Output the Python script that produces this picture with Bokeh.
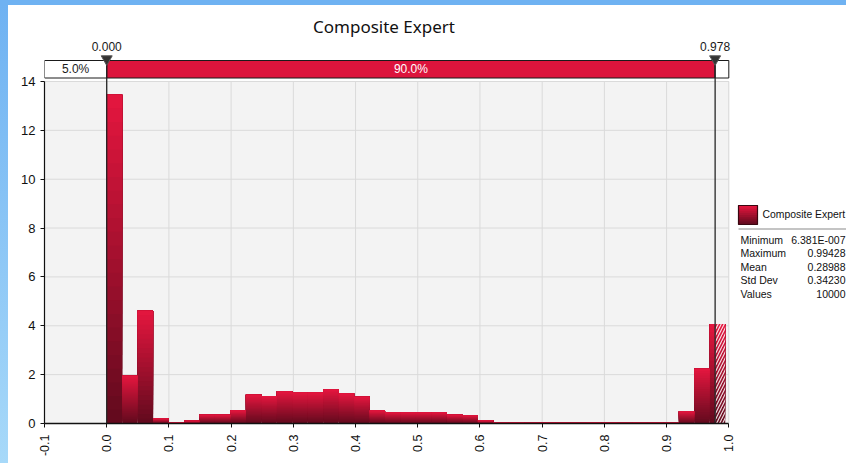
import math
import numpy as np
from bokeh.plotting import figure
from bokeh.models import FixedTicker, NumeralTickFormatter, ColumnDataSource, Div
from bokeh.layouts import column, row
from bokeh.core.properties import value
from bokeh.embed import file_html
from bokeh.resources import INLINE

# ---------------- data ----------------
title_text = "Composite Expert"
series_name = "Composite Expert"
n_bins = 40
data_min = 6.381e-7
data_max = 0.99428
density = [13.46, 1.95, 4.62, 0.20, 0.04, 0.11, 0.36, 0.36, 0.53, 1.18,
           1.13, 1.31, 1.27, 1.27, 1.39, 1.23, 1.10, 0.53, 0.45, 0.45,
           0.45, 0.45, 0.36, 0.33, 0.12, 0.04, 0.04, 0.03, 0.04, 0.04,
           0.03, 0.04, 0.04, 0.03, 0.04, 0.04, 0.03, 0.49, 2.24, 4.07]
left_marker = 0.000
right_marker = 0.978
marker_labels = ["0.000", "0.978"]
pct_left = "5.0%"
pct_mid = "90.0%"
stats_labels = ["Minimum", "Maximum", "Mean", "Std Dev", "Values"]
stats_values = ["6.381E-007", "0.99428", "0.28988", "0.34230", "10000"]
x_ticks = [-0.1, 0.0, 0.1, 0.2, 0.3, 0.4, 0.5, 0.6, 0.7, 0.8, 0.9, 1.0]
y_ticks = [0, 2, 4, 6, 8, 10, 12, 14]
x_lo, x_hi = -0.1, 1.0
y_hi = 14

# ---------------- layout ----------------
PAGE_W, PAGE_H = 846, 463
STRIP_L, STRIP_T = 8, 5           # blue window-frame strips
W, H = PAGE_W - STRIP_L, PAGE_H - STRIP_T
BORDER_L, BORDER_B = 36, 40
FRAME_W, FRAME_H = W - BORDER_L, H - BORDER_B
PX_X = 622.1          # px per x unit
PX_Y = 24.43          # px per y unit
PAGE_X0 = STRIP_L + BORDER_L      # page x of frame left
PAGE_Y0 = STRIP_T + FRAME_H       # page y of y=0
x_end = x_lo + FRAME_W / PX_X
y_end = FRAME_H / PX_Y

def fx(px):
    return x_lo + (px - PAGE_X0) / PX_X

def fy(py):
    return (PAGE_Y0 - py) / PX_Y

FONT = value("Liberation Sans")

p = figure(width=W, height=H, output_backend="svg", toolbar_location=None,
           x_range=(x_lo, x_end), y_range=(0, y_end),
           min_border_left=BORDER_L, min_border_right=0, min_border_top=0,
           min_border_bottom=BORDER_B, margin=0)
p.outline_line_color = None
p.background_fill_color = "white"
p.border_fill_color = "white"
p.xgrid.visible = False
p.ygrid.visible = False

# plot area background
p.quad(left=[x_lo], right=[x_hi], bottom=[0], top=[y_hi],
       fill_color="#f3f3f3", line_color="#d6d6d6", line_width=1)
# grid lines
gx = [t for t in x_ticks if x_lo < t < x_hi]
p.segment(x0=gx, y0=[0] * len(gx), x1=gx, y1=[y_hi] * len(gx),
          line_color="#dadada", line_width=1)
gy = [t for t in y_ticks if 0 < t <= y_hi]
p.segment(x0=[x_lo] * len(gy), y0=gy, x1=[x_hi] * len(gy), y1=gy,
          line_color="#dadada", line_width=1)

# ---------------- histogram with vertical gradient ----------------
edges = np.linspace(data_min, data_max, n_bins + 1)
NB = 24
top_rgb = np.array([226, 22, 62])
bot_rgb = np.array([100, 10, 30])

def hexc(t):
    c = bot_rgb + (top_rgb - bot_rgb) * t
    return "#%02x%02x%02x" % tuple(int(round(v)) for v in c)

band_cols = [hexc(k / (NB - 1)) for k in range(NB)]
L, R, B, T, C = [], [], [], [], []
for k in range(NB):
    for i, h in enumerate(density):
        L.append(edges[i]); R.append(edges[i + 1])
        B.append(h * k / NB); T.append(h)
        C.append(band_cols[k])
src = ColumnDataSource(dict(left=L, right=R, bottom=B, top=T, color=C))
p.quad(left="left", right="right", bottom="bottom", top="top", source=src,
       fill_color="color", line_color=None)

# hatched part beyond the right marker
HL, HR, HT = [], [], []
for i, h in enumerate(density):
    if edges[i + 1] > right_marker:
        HL.append(max(edges[i], right_marker)); HR.append(edges[i + 1]); HT.append(h)
p.quad(left=HL, right=HR, bottom=[0] * len(HL), top=HT, fill_alpha=0,
       line_color=None, hatch_pattern="/", hatch_color="white",
       hatch_scale=6, hatch_weight=1.2, hatch_alpha=0.85)

# ---------------- marker bar on top ----------------
bar_b, bar_t = fy(77.5), fy(60)
p.quad(left=[x_lo, left_marker, right_marker], right=[left_marker, right_marker, x_hi],
       bottom=[bar_b] * 3, top=[bar_t] * 3,
       fill_color=["white", "#dc143c", "white"], line_color="#1a1a1a", line_width=1)
p.text(x=[(x_lo + left_marker) / 2], y=[(bar_b + bar_t) / 2], text=[pct_left],
       text_font=FONT, text_font_size="12px", text_color="#1a1a1a",
       text_align="center", text_baseline="middle")
p.text(x=[(left_marker + right_marker) / 2], y=[(bar_b + bar_t) / 2], text=[pct_mid],
       text_font=FONT, text_font_size="12px", text_color="white",
       text_align="center", text_baseline="middle")
# vertical marker lines
p.segment(x0=[left_marker, right_marker], y0=[0, 0],
          x1=[left_marker, right_marker], y1=[bar_t, bar_t],
          line_color="#262626", line_width=1.3)
p.scatter(x=[left_marker, right_marker], y=[fy(58.5)] * 2, marker="inverted_triangle",
          size=11, fill_color="#333333", line_color="#555555", line_width=1)
p.text(x=[left_marker, right_marker], y=[fy(46)] * 2, text=marker_labels,
       text_font=FONT, text_font_size="12px", text_color="#1a1a1a",
       text_align="center", text_baseline="middle")

# ---------------- title ----------------
p.text(x=[fx(383.5)], y=[fy(25.5)], text=[title_text], text_font=value("Noto Sans"),
       text_font_size="17px", text_color="#111111",
       text_align="center", text_baseline="middle")

# ---------------- legend ----------------
sw_l, sw_r, sw_t, sw_b = fx(738), fx(757), fy(205), fy(224)
NS = 10
for k in range(NS):
    p.quad(left=[sw_l], right=[sw_r], bottom=[sw_b + (sw_t - sw_b) * k / NS],
           top=[sw_t], fill_color=hexc(k / (NS - 1)), line_color=None)
p.quad(left=[sw_l], right=[sw_r], bottom=[sw_b], top=[sw_t], fill_alpha=0,
       line_color="#3a0610", line_width=1.2)
p.text(x=[fx(762)], y=[fy(214)], text=[series_name], text_font=FONT,
       text_font_size="10.4px", text_color="#111111", text_baseline="middle")
p.segment(x0=[fx(738)], y0=[fy(228.5)], x1=[fx(846)], y1=[fy(228.5)],
          line_color="#c4c4c4", line_width=2)
row_y = [fy(v) for v in (239, 252.5, 266, 279.5, 293)]
p.text(x=[fx(740)] * 5, y=row_y, text=stats_labels, text_font=FONT,
       text_font_size="10.5px", text_color="#111111", text_baseline="middle")
p.text(x=[fx(845)] * 5, y=row_y, text=stats_values, text_font=FONT,
       text_font_size="10.5px", text_color="#111111", text_baseline="middle",
       text_align="right")

# ---------------- axes ----------------
xa = p.xaxis[0]
xa.ticker = FixedTicker(ticks=x_ticks)
xa.formatter = NumeralTickFormatter(format="0.0")
xa.bounds = (x_lo - 1e-4, x_hi + 1e-4)
xa.major_label_orientation = math.pi / 2
xa.axis_line_color = "#111111"
xa.axis_line_width = 1.6
xa.major_tick_line_color = "#111111"
xa.major_tick_out = 4
xa.major_tick_in = 0
xa.minor_tick_line_color = None
xa.major_label_standoff = 7
xa.major_label_text_font = "Liberation Sans"
xa.major_label_text_font_size = "12.5px"
xa.major_label_text_color = "#111111"

ya = p.yaxis[0]
ya.ticker = FixedTicker(ticks=y_ticks)
ya.bounds = (0, y_hi)
ya.axis_line_color = "#111111"
ya.axis_line_width = 1.2
ya.major_tick_line_color = "#111111"
ya.major_tick_out = 4
ya.major_tick_in = 0
ya.minor_tick_line_color = None
ya.major_label_standoff = 5
ya.major_label_text_font = "Liberation Sans"
ya.major_label_text_font_size = "13px"
ya.major_label_text_color = "#111111"

# ---------------- blue window-frame strips ----------------
top_strip = Div(text="", width=PAGE_W, height=STRIP_T, margin=0,
                styles={"background": "#6fb2f2"})
left_strip = Div(text="", width=STRIP_L, height=H, margin=0,
                 styles={"background": "linear-gradient(#6fb2f2, #a7d9f9)"})
page = column(top_strip, row(left_strip, p, spacing=0), spacing=0)

open("out.html", "w").write(file_html(page, INLINE))
